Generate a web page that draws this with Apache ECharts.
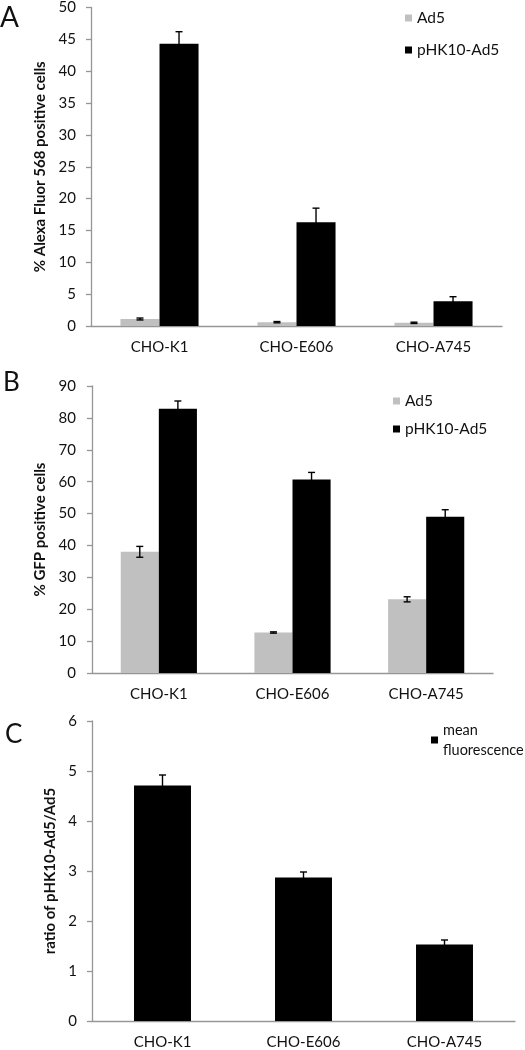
<!DOCTYPE html>
<html>
<head>
<meta charset="utf-8">
<script src="https://cdn.jsdelivr.net/npm/echarts@6/dist/echarts.min.js"></script>
<style>
html,body{margin:0;padding:0;background:#fff;}
#chart{width:525px;height:1050px;}
</style>
</head>
<body>
<div id="chart"></div>
<script>
// ---- data ----
var categories = ['CHO-K1', 'CHO-E606', 'CHO-A745'];
var alexaAd5 = [1.1, 0.6, 0.5];
var alexaAd5Err = [0.15, 0.1, 0.1];
var alexaPHK = [44.3, 16.3, 3.9];
var alexaPHKErr = [1.9, 2.2, 0.7];
var gfpAd5 = [38.0, 12.7, 23.1];
var gfpAd5Err = [1.7, 0.2, 0.8];
var gfpPHK = [82.9, 60.7, 49.0];
var gfpPHKErr = [2.4, 2.2, 2.2];
var ratioMean = [4.71, 2.87, 1.53];
var ratioErr = [0.21, 0.11, 0.09];
var ticksA = {min: 0, max: 50, interval: 5};
var ticksB = {min: 0, max: 90, interval: 10};
var ticksC = {min: 0, max: 6, interval: 1};

var FONT = 'Lato';
var GRAY = '#c0c0c0';
var AXIS = '#969696';

function errData(vals, errs) {
  return vals.map(function (v, i) { return [i, v, errs[i]]; });
}
function errorSeries(idx, vals, errs, offFrac) {
  return {
    type: 'custom', xAxisIndex: idx, yAxisIndex: idx, z: 10,
    data: errData(vals, errs),
    encode: {x: 0, y: 1},
    silent: true,
    renderItem: function (params, api) {
      var c = api.value(0), v = api.value(1), e = api.value(2);
      var band = api.size([1, 0])[0];
      var top = api.coord([c, v + e]);
      var bot = api.coord([c, v - e]);
      var x = top[0] + offFrac * band;
      var hw = 3.5;
      var st = {stroke: '#000', lineWidth: 1.4};
      return {type: 'group', children: [
        {type: 'line', shape: {x1: x, y1: top[1], x2: x, y2: bot[1]}, style: st},
        {type: 'line', shape: {x1: x - hw, y1: top[1], x2: x + hw, y2: top[1]}, style: st},
        {type: 'line', shape: {x1: x - hw, y1: bot[1], x2: x + hw, y2: bot[1]}, style: st}
      ]};
    }
  };
}
function xAx(idx) {
  return {
    type: 'category', gridIndex: idx, data: categories,
    axisLine: {lineStyle: {color: AXIS, width: 1.3}},
    axisTick: {show: false},
    axisLabel: {color: '#111', fontFamily: FONT, fontSize: 15, margin: 14}
  };
}
function yAx(idx, t, name, gap, lblMargin) {
  return {
    type: 'value', gridIndex: idx, min: t.min, max: t.max, interval: t.interval,
    name: name, nameLocation: 'middle', nameGap: gap, nameRotate: 90,
    nameTextStyle: {fontFamily: FONT, fontWeight: 'bold', fontSize: 15, color: '#111'},
    axisLine: {show: true, lineStyle: {color: AXIS, width: 1.3}},
    axisTick: {show: true, length: 5, lineStyle: {color: AXIS, width: 1.3}},
    splitLine: {show: false},
    axisLabel: {color: '#111', fontFamily: FONT, fontSize: 15, margin: lblMargin}
  };
}

var chart = echarts.init(document.getElementById('chart'), null, {renderer: 'canvas'});
var option = {
  animation: false,
  backgroundColor: '#fff',
  grid: [
    {left: 91, top: 6, width: 411, height: 320},
    {left: 92, top: 386, width: 401, height: 287},
    {left: 92, top: 721, width: 423, height: 302}
  ],
  xAxis: [xAx(0), xAx(1), xAx(2)],
  yAxis: [
    yAx(0, ticksA, '% Alexa Fluor 568 positive cells', 41, 15),
    yAx(1, ticksB, '% GFP positive cells', 39, 16),
    yAx(2, ticksC, 'ratio of pHK10-Ad5/Ad5', 29, 15)
  ],
  legend: [
    {left: 400, top: 4, orient: 'vertical', itemGap: 14, itemWidth: 7, itemHeight: 7, icon: 'rect',
     data: ['Ad5', 'pHK10-Ad5'], textStyle: {fontFamily: FONT, fontSize: 15.5, color: '#111', lineHeight: 18}},
    {left: 388, top: 387, orient: 'vertical', itemGap: 10, itemWidth: 7, itemHeight: 7, icon: 'rect',
     data: ['Ad5', 'pHK10-Ad5'], textStyle: {fontFamily: FONT, fontSize: 15.5, color: '#111', lineHeight: 18}},
    {left: 426, top: 705, orient: 'vertical', itemWidth: 7, itemHeight: 7, icon: 'rect',
     data: ['mean fluorescence'],
     formatter: function () { return 'mean\nfluorescence'; },
     textStyle: {fontFamily: FONT, fontSize: 14.5, color: '#111', lineHeight: 20, padding: [20, 0, 0, 0]}}
  ],
  graphic: [
    {type: 'text', left: 0, top: 4, style: {text: 'A', fontFamily: FONT, fontSize: 28, fill: '#111'}},
    {type: 'text', left: 3, top: 370, style: {text: 'B', fontFamily: FONT, fontSize: 26, fill: '#111'}},
    {type: 'text', left: 5, top: 722, style: {text: 'C', fontFamily: FONT, fontSize: 26, fill: '#111'}}
  ],
  series: [
    {name: 'Ad5', type: 'bar', xAxisIndex: 0, yAxisIndex: 0, data: alexaAd5, barWidth: '28.5%', barGap: '0%', itemStyle: {color: GRAY}},
    {name: 'pHK10-Ad5', type: 'bar', xAxisIndex: 0, yAxisIndex: 0, data: alexaPHK, barWidth: '28.5%', barGap: '0%', itemStyle: {color: '#000'}},
    errorSeries(0, alexaAd5, alexaAd5Err, -0.1425),
    errorSeries(0, alexaPHK, alexaPHKErr, 0.1425),
    {name: 'Ad5', type: 'bar', xAxisIndex: 1, yAxisIndex: 1, data: gfpAd5, barWidth: '28.5%', barGap: '0%', itemStyle: {color: GRAY}},
    {name: 'pHK10-Ad5', type: 'bar', xAxisIndex: 1, yAxisIndex: 1, data: gfpPHK, barWidth: '28.5%', barGap: '0%', itemStyle: {color: '#000'}},
    errorSeries(1, gfpAd5, gfpAd5Err, -0.1425),
    errorSeries(1, gfpPHK, gfpPHKErr, 0.1425),
    {name: 'mean fluorescence', type: 'bar', xAxisIndex: 2, yAxisIndex: 2, data: ratioMean, barWidth: '40.4%', itemStyle: {color: '#000'}},
    errorSeries(2, ratioMean, ratioErr, 0)
  ]
};
chart.setOption(option);
</script>
</body>
</html>
